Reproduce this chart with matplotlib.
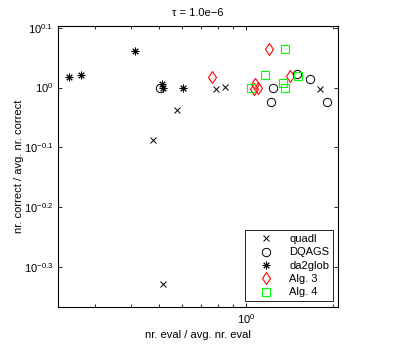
import numpy as np
import matplotlib
matplotlib.use('Agg')
import matplotlib.pyplot as plt
from matplotlib.ticker import FixedLocator, NullFormatter

plt.rcParams['font.family'] = ['Liberation Sans', 'DejaVu Sans']
plt.rcParams['mathtext.default'] = 'regular'

# nr. eval / avg. nr. eval  vs  nr. correct / avg. nr. correct
quadl_x = [0.476, 0.515, 0.576, 0.787, 0.848, 1.803]
quadl_y = [0.816, 0.470, 0.917, 0.993, 1.003, 0.996]

dqags_x = [0.504, 1.223, 1.235, 1.505, 1.658, 1.906]
dqags_y = [0.999, 0.946, 0.998, 1.055, 1.033, 0.946]

da2glob_x = [0.2446, 0.268, 0.414, 0.511, 0.518, 0.607]
da2glob_y = [1.042, 1.048, 1.150, 1.014, 0.999, 0.998]

alg3_x = [0.764, 1.201, 1.074, 1.103, 1.066, 1.420]
alg3_y = [1.042, 1.159, 1.014, 0.998, 0.995, 1.046]

alg4_x = [1.368, 1.159, 1.039, 1.510, 1.343, 1.365]
alg4_y = [1.159, 1.049, 0.998, 1.045, 1.016, 1.000]

y_exps = [-0.3, -0.2, -0.1, 0.0, 0.1]
y_labels = [r'$10^{-0.3}$', r'$10^{-0.2}$', r'$10^{-0.1}$', r'$10^{0}$', r'$10^{0.1}$']

fig = plt.figure(figsize=(3.99, 3.46), dpi=100)
ax = fig.add_axes([0.1454, 0.1127, 0.7018, 0.8121])

lw = 0.8
ax.plot(quadl_x, quadl_y, 'x', color='k', ms=4, mew=0.7, label='quadl')
ax.plot(dqags_x, dqags_y, 'o', color='k', mfc='none', ms=6, mew=0.7, label='DQAGS')
ax.plot(da2glob_x, da2glob_y, marker=(8, 2, 0), ls='none', color='k', ms=5.5, mew=0.7, label='da2glob')
ax.plot(alg3_x, alg3_y, 'd', color='r', mfc='none', ms=6, mew=lw, label='Alg. 3')
ax.plot(alg4_x, alg4_y, 's', color='#00ff00', mfc='none', ms=5.5, mew=lw, label='Alg. 4')

ax.set_xscale('log')
ax.set_yscale('log')
ax.set_xlim(0.2236, 2.08)
ax.set_ylim(10 ** -0.367, 10 ** 0.103)

ax.xaxis.set_major_locator(FixedLocator([1.0]))
ax.set_xticklabels([r'$10^{0}$'])
ax.xaxis.set_minor_locator(FixedLocator([0.3, 0.4, 0.5, 0.6, 0.7, 0.8, 0.9, 2.0]))
ax.xaxis.set_minor_formatter(NullFormatter())

ax.yaxis.set_major_locator(FixedLocator([10 ** e for e in y_exps]))
ax.set_yticklabels(y_labels)
ax.yaxis.set_minor_locator(FixedLocator([]))

ax.tick_params(which='both', direction='in', top=True, right=True, labelsize=8, width=0.6)
ax.tick_params(which='major', length=3)
ax.tick_params(which='minor', length=2)
for s in ax.spines.values():
    s.set_linewidth(0.8)

ax.set_title('τ = 1.0e−6', fontsize=8, pad=7)
ax.set_xlabel('nr. eval / avg. nr. eval', fontsize=8, labelpad=3)
ax.set_ylabel('nr. correct / avg. nr. correct', fontsize=8, labelpad=0)

leg = ax.legend(loc='lower right', bbox_to_anchor=(0.983, 0.02), borderaxespad=0,
                fancybox=False, edgecolor='k', framealpha=1, fontsize=8,
                labelspacing=0.3, handlelength=3.0, handletextpad=0.6, borderpad=0.35)
leg.get_frame().set_linewidth(0.6)

fig.savefig('out.png', dpi=100)
